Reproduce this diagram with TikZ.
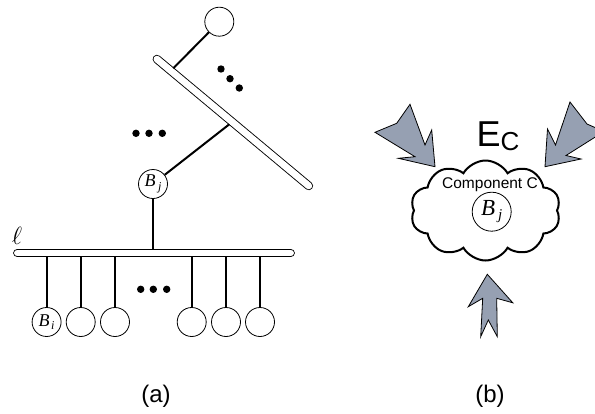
\documentclass[tikz,border=0pt]{standalone}
\usepackage{fontspec}
\setmainfont{Liberation Sans}
\newfontfamily\serifit{Liberation Serif}[UprightFont=*-Italic]
\usetikzlibrary{shapes.symbols}
\definecolor{arrowfill}{RGB}{150,160,178}
% bus-member label: italic B with a lowered index
% #1 index, #2 size of B, #3 size of index, #4 drop, #5 gap
\newcommand{\busname}[5]{{\serifit\fontsize{#2}{#2}\selectfont B\hspace{#5}\raisebox{-#4}{\fontsize{#3}{#3}\selectfont #1}}}
\tikzset{
  ball/.style={circle, draw, line width=0.8pt, minimum size=29pt, inner sep=0pt},
  bigball/.style={ball, minimum size=39pt},
  link/.style={line width=2pt},
  dotmark/.style={circle, fill=black, inner sep=0pt, minimum size=7.4pt},
  busouter/.style={line width=8.6pt, line cap=round},
  businner/.style={white, line width=6.8pt, line cap=round},
  bigarrow/.style={draw, line width=0.8pt, fill=arrowfill, line join=miter},
  caption/.style={font=\fontsize{24}{24}\selectfont, inner sep=0pt},
}
\begin{document}
\begin{tikzpicture}[x=1pt,y=-1pt]
\useasboundingbox (0,0) rectangle (595,413);

% ---------- (a) hierarchy of buses ----------
% diagonal bus
\draw[busouter] (156.9,59.1) -- (308.8,185.9);
\draw[businner] (156.9,59.1) -- (308.8,185.9);
% horizontal bus
\draw[busouter] (17.4,253) -- (290.6,253);
\draw[businner] (17.4,253) -- (290.6,253);

\node[font=\fontsize{27}{27}\selectfont, inner sep=0pt] (ell) at (17,236) {$\ell$};

\node[ball] (top) at (219.3,21.7) {};
\node[ball] (bj) at (153,184) {\busname{j}{18}{12}{3.5pt}{2.5pt}};

\coordinate (dtop) at (173.3,68.3);
\coordinate (dbot) at (229.3,124.3);
\coordinate (hup) at (153,249);

\draw[link] (top) -- (dtop);
\draw[link] (dbot) -- (bj);
\draw[link] (bj) -- (hup);

% leaves hanging from the horizontal bus
\node[ball] (l1) at (46.6,322) {\busname{i}{18}{12}{2.5pt}{1.5pt}};
\node[ball] (l2) at (80.7,322) {};
\node[ball] (l3) at (115,322) {};
\node[ball] (l4) at (191.7,322) {};
\node[ball] (l5) at (226,322) {};
\node[ball] (l6) at (260,322) {};
\foreach \n/\x in {1/46.6,2/80.7,3/115,4/191.7,5/226,6/260}{
  \coordinate (h\n) at (\x,257);
  \draw[link] (h\n) -- (l\n);
}

% ellipses
\node[dotmark] (d1) at (221,69) {};
\node[dotmark] (d2) at (230,78.7) {};
\node[dotmark] (d3) at (239.3,88) {};
\node[dotmark] (m1) at (136,133.3) {};
\node[dotmark] (m2) at (149,133.3) {};
\node[dotmark] (m3) at (162.3,133.3) {};
\node[dotmark] (b1) at (140.7,289.3) {};
\node[dotmark] (b2) at (153.3,289.3) {};
\node[dotmark] (b3) at (166.7,289.3) {};

\node[caption] (capa) at (156,396) {(a)};

% ---------- (b) component with incoming effects ----------
\begin{scope}
\clip (0,0) rectangle (595,413);
\draw[bigarrow] (375,132.3) -- (396.7,123.3) -- (410,104.3) -- (425,145)
  -- (431.7,130) -- (435,166.7) -- (398.3,158.3) -- (415,156.7) -- cycle;
\draw[bigarrow] (604,131.5) -- (587,124) -- (570,102) -- (555.5,145)
  -- (547.5,129) -- (545,166.7) -- (581,159) -- (566,155.5) -- cycle;
\draw[bigarrow] (487.3,274.3) -- (512.8,302.8) -- (496.7,298.3) -- (497.3,336.7)
  -- (488.3,320) -- (480.7,336.7) -- (482.7,298.3) -- (468.3,306.7) -- cycle;
\end{scope}

\node[cloud, draw, line width=2pt, cloud puffs=10, cloud puff arc=120, aspect=1.5,
      minimum width=150pt, minimum height=100pt, inner sep=0pt] (cloud) at (485.5,210.5) {};
\node[font=\fontsize{15.5}{15.5}\selectfont, inner sep=0pt, anchor=base] (comp) at (490,188.3) {Component C};
\node[bigball] (bjc) at (491.7,211.7) {\busname{j}{23}{15}{4.5pt}{3pt}};

\node[font=\fontsize{36}{36}\selectfont, inner sep=0pt, anchor=base west] (ec) at (476.4,146.7)
  {E\raisebox{-4pt}{\fontsize{26}{26}\selectfont C}};

\node[caption] (capb) at (490,396) {(b)};
\end{tikzpicture}
\end{document}
